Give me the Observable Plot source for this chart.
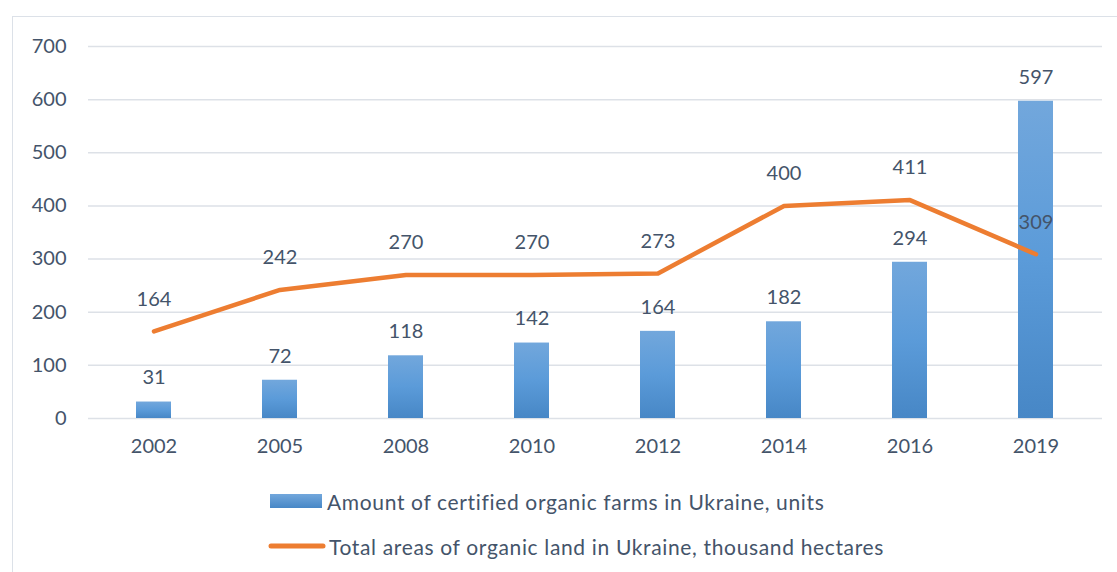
<!DOCTYPE html>
<html>
<head>
<meta charset="utf-8">
<script src="https://cdn.jsdelivr.net/npm/d3@7"></script>
<script src="https://cdn.jsdelivr.net/npm/@observablehq/plot@0.6"></script>
<style>
  html, body { margin: 0; padding: 0; background: #fff; width: 1117px; height: 572px; overflow: hidden; }
  body { font-family: Lato, "Open Sans", sans-serif; color: #44546A; }
  #frame { position: absolute; left: 12px; top: 16px; width: 1200px; height: 700px; border: 1.5px solid #DCE1E8; box-sizing: border-box; }
  #chart { position: absolute; left: 0; top: 0; }
  #legend { position: absolute; left: 268px; top: 488px; font-size: 21px; letter-spacing: 0.65px; color: #44546A; }
  .item { display: flex; align-items: center; height: 26px; margin-bottom: 19px; }
  .item svg { margin-right: 3px; }
</style>
</head>
<body>
<div id="frame"></div>
<div id="chart"></div>
<div id="legend"></div>
<script>
const years = ["2002", "2005", "2008", "2010", "2012", "2014", "2016", "2019"];
const farms = [31, 72, 118, 142, 164, 182, 294, 597];
const areas = [164, 242, 270, 270, 273, 400, 411, 309];
const yTicks = [0, 100, 200, 300, 400, 500, 600, 700];
const farmsLabel = "Amount of certified organic farms in Ukraine, units";
const areasLabel = "Total areas of organic land in Ukraine, thousand hectares";

const barData = years.map((y, i) => ({year: y, value: farms[i]}));
const lineData = years.map((y, i) => ({year: y, value: areas[i]}));

const textColor = "#44546A";
const orange = "#ED7D31";

const plot = Plot.plot({
  width: 1117,
  height: 470,
  marginLeft: 88,
  marginRight: 15,
  marginTop: 46,
  marginBottom: 52,
  style: {fontFamily: "Lato, 'Open Sans', sans-serif", fontSize: "20px", color: textColor, background: "transparent"},
  x: {domain: years, paddingInner: 0.72, paddingOuter: 0.36, label: null, tickSize: 0, tickPadding: 20},
  y: {domain: [0, 700], ticks: yTicks, label: null, tickSize: 0, tickPadding: 22, tickFormat: d => String(d)},
  marks: [
    () => {
      const ns = "http://www.w3.org/2000/svg";
      const defs = document.createElementNS(ns, "defs");
      defs.innerHTML = `<linearGradient id="barGrad" x1="0" y1="0" x2="0" y2="1">
        <stop offset="0%" stop-color="#72A7DC"/>
        <stop offset="50%" stop-color="#5B9BD9"/>
        <stop offset="100%" stop-color="#4787C6"/></linearGradient>`;
      return defs;
    },
    Plot.ruleY(yTicks, {stroke: "#DDE1E7", strokeWidth: 1.5}),
    Plot.barY(barData, {x: "year", y: "value", fill: "url(#barGrad)"}),
    Plot.text(barData, {x: "year", y: "value", text: d => String(d.value), dy: -24, fill: textColor, fontSize: 20}),
    Plot.line(lineData, {x: "year", y: "value", stroke: orange, strokeWidth: 4.5, strokeLinecap: "round", strokeLinejoin: "round"}),
    Plot.text(lineData, {x: "year", y: "value", text: d => String(d.value), dy: -32, fill: textColor, fontSize: 20})
  ]
});
document.getElementById("chart").appendChild(plot);

const legend = document.getElementById("legend");
legend.innerHTML = `
<div class="item"><svg width="56" height="16"><defs><linearGradient id="lg1" x1="0" y1="0" x2="0" y2="1"><stop offset="0%" stop-color="#72A7DC"/><stop offset="100%" stop-color="#4787C6"/></linearGradient></defs><rect x="2" y="1" width="52" height="14" fill="url(#lg1)"/></svg><span>${farmsLabel}</span></div>
<div class="item"><svg width="58" height="16"><line x1="3" y1="8" x2="55" y2="8" stroke="${orange}" stroke-width="5" stroke-linecap="round"/></svg><span>${areasLabel}</span></div>`;
</script>
</body>
</html>
